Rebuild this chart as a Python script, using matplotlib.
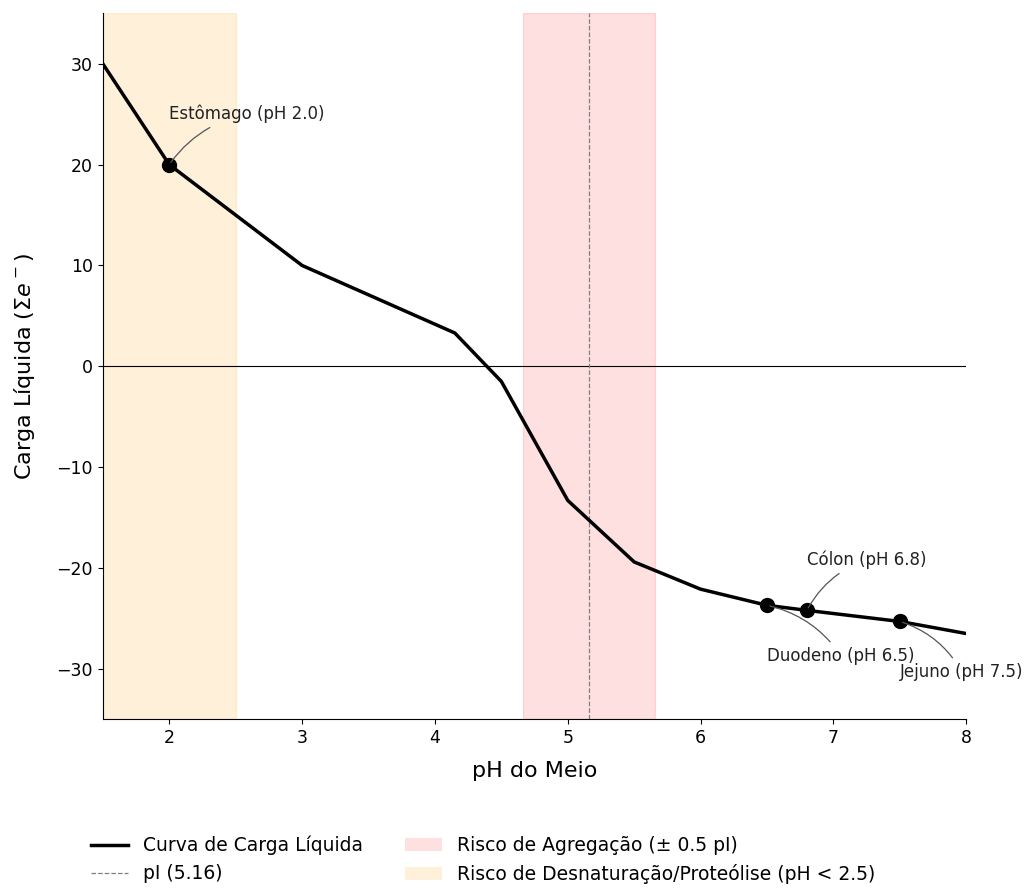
import matplotlib
matplotlib.use("Agg")
import matplotlib.pyplot as plt
import matplotlib.patches as mpatches
from matplotlib.lines import Line2D

# curva de carga liquida
ph = [1.5, 2.0, 3.0, 4.15, 4.5, 5.0, 5.5, 6.0, 6.5, 6.8, 7.5, 8.0]
carga = [30.0, 20.0, 10.0, 3.3, -1.5, -13.3, -19.4, -22.1, -23.7, -24.2, -25.3, -26.5]

pI = 5.16

# pontos fisiologicos
orgaos = ["Estômago", "Duodeno", "Cólon", "Jejuno"]
ph_orgaos = [2.0, 6.5, 6.8, 7.5]
carga_orgaos = [20.0, -23.7, -24.2, -25.3]
desloc = [5, -5, 5, -5]

fig, ax = plt.subplots(figsize=(10.28, 8.88), dpi=100)
fig.subplots_adjust(left=0.1, right=0.94, top=0.985, bottom=0.19)

ax.axvspan(1.5, 2.5, color="orange", alpha=0.15, lw=1)
ax.axvspan(pI - 0.5, pI + 0.5, color="red", alpha=0.12, lw=1)
ax.axhline(0, color="black", lw=0.8)
ax.axvline(pI, color="gray", ls="--", lw=0.9)
ax.plot(ph, carga, color="black", lw=2.5)
ax.plot(ph_orgaos, carga_orgaos, "o", color="black", ms=10)

for nome, x, y, d in zip(orgaos, ph_orgaos, carga_orgaos, desloc):
    ax.annotate(f"{nome} (pH {x:.1f})", xy=(x, y), xytext=(x, y + d),
                ha="left", va="center", fontsize=12, color="#222222",
                arrowprops=dict(arrowstyle="-", color="#555555", lw=0.9,
                                connectionstyle="arc3,rad=0.2"))

ax.set_xlim(1.5, 8)
ax.set_ylim(-35, 35)
ax.set_xlabel("pH do Meio", fontsize=16, labelpad=10)
ax.set_ylabel(r"Carga Líquida ($\Sigma e^-$)", fontsize=16, labelpad=14)
ax.tick_params(labelsize=12.5)
ax.spines["top"].set_visible(False)
ax.spines["right"].set_visible(False)

handles = [
    Line2D([], [], color="black", lw=2.5),
    Line2D([], [], color="gray", ls="--", lw=0.9),
    mpatches.Patch(color="red", alpha=0.12, lw=0),
    mpatches.Patch(color="orange", alpha=0.15, lw=0),
]
labels = ["Curva de Carga Líquida", "pI (5.16)",
          "Risco de Agregação (± 0.5 pI)", "Risco de Desnaturação/Proteólise (pH < 2.5)"]
fig.legend(handles, labels, loc="lower left", bbox_to_anchor=(0.072, -0.015), ncol=2,
           frameon=False, fontsize=13.5, columnspacing=2.2)

fig.savefig("out.png")
